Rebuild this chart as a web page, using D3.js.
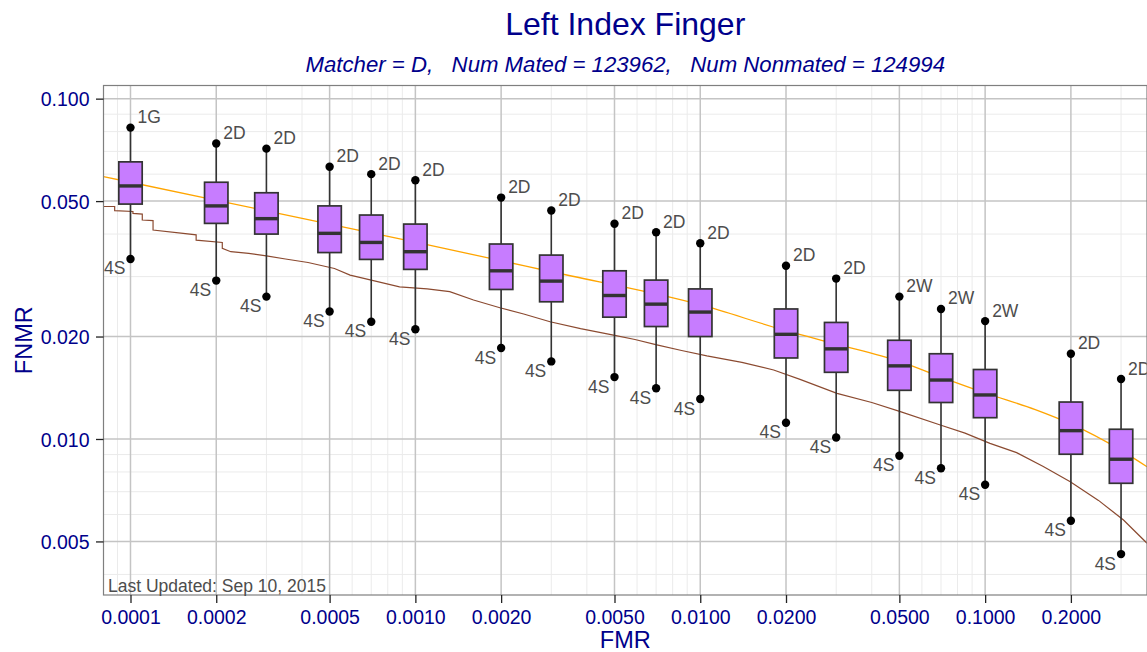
<!DOCTYPE html>
<html>
<head>
<meta charset="utf-8">
<script src="https://cdn.jsdelivr.net/npm/d3@7/dist/d3.min.js"></script>
<style>
  body { margin: 0; background: #fff; }
  text { font-family: "Liberation Sans", Arial, Helvetica, sans-serif; }
</style>
</head>
<body>
<div id="chart"></div>
<script>
// Left Index Finger - FNMR vs FMR boxplots (log-log)

// ---- data ----
var fmrLevels = [0.0001, 0.0002, 0.0003, 0.0005, 0.0007, 0.001, 0.002, 0.003, 0.005,
                 0.007, 0.01, 0.02, 0.03, 0.05, 0.07, 0.1, 0.2, 0.3];
var fnmrMax    = [0.0822, 0.0738, 0.0713, 0.0631, 0.0600, 0.0576, 0.0512, 0.0469, 0.0429,
                  0.0405, 0.0376, 0.0323, 0.0296, 0.0262, 0.0241, 0.0222, 0.0178, 0.0150];
var fnmrQ3     = [0.0652, 0.0568, 0.0529, 0.0484, 0.0455, 0.0428, 0.0374, 0.0347, 0.0312,
                  0.0293, 0.0276, 0.0241, 0.0220, 0.0195, 0.0178, 0.0160, 0.01284, 0.01068];
var fnmrMedian = [0.0554, 0.0484, 0.0444, 0.0402, 0.0378, 0.0355, 0.0312, 0.0291, 0.0264,
                  0.0249, 0.0236, 0.0203, 0.0184, 0.0164, 0.0149, 0.01347, 0.01058, 0.00872];
var fnmrQ1     = [0.0490, 0.0430, 0.0400, 0.0353, 0.0337, 0.0315, 0.0275, 0.0253, 0.0228,
                  0.0214, 0.0200, 0.0173, 0.0157, 0.0139, 0.0128, 0.01155, 0.00902, 0.00741];
var fnmrMin    = [0.0338, 0.0292, 0.0262, 0.0237, 0.0221, 0.0210, 0.0185, 0.0169, 0.0152,
                  0.0141, 0.0131, 0.01116, 0.0101, 0.00893, 0.0082, 0.00734, 0.00575, 0.00459];
var topLabels = ["1G", "2D", "2D", "2D", "2D", "2D", "2D", "2D", "2D",
                 "2D", "2D", "2D", "2D", "2W", "2W", "2W", "2D", "2D"];
var bottomLabels = ["4S", "4S", "4S", "4S", "4S", "4S", "4S", "4S", "4S",
                    "4S", "4S", "4S", "4S", "4S", "4S", "4S", "4S", "4S"];

// orange reference curve
var orangeFmr  = [8.04e-5, 1e-4, 3e-4, 1e-3, 3e-3, 1e-2, 2e-2, 3e-2, 5e-2, 7e-2, 0.1, 0.15, 0.2, 0.3, 0.37];
var orangeFnmr = [0.0590, 0.0568, 0.0468, 0.0379, 0.0310, 0.0248, 0.0208, 0.0190, 0.0169, 0.0152,
                  0.01365, 0.0122, 0.01107, 0.00926, 0.00829];

// brown empirical curve
var brownFmr  = [8.04e-5, 8.8e-5, 8.8e-5, 1.02e-4, 1.02e-4, 1.1e-4, 1.1e-4, 1.2e-4, 1.2e-4, 1.53e-4,
                 1.7e-4, 1.7e-4, 2.1e-4, 2.1e-4, 2.25e-4, 2.6e-4, 3.0e-4, 3.5e-4, 4.2e-4, 5.2e-4,
                 5.9e-4, 7.0e-4, 8.8e-4, 1.1e-3, 1.32e-3, 1.6e-3, 1.98e-3, 2.4e-3, 2.97e-3, 3.8e-3,
                 4.96e-3, 5.9e-3, 7.04e-3, 8.6e-3, 1.055e-2, 1.4e-2, 1.81e-2, 2.24e-2, 3.02e-2,
                 4.0e-2, 5.04e-2, 6.96e-2, 8.5e-2, 0.104, 0.129, 0.16, 0.199, 0.25, 0.306, 0.37];
var brownFnmr = [0.0482, 0.0482, 0.0469, 0.0466, 0.0460, 0.0458, 0.0440, 0.0438, 0.0411, 0.0402,
                 0.0398, 0.0384, 0.0378, 0.0363, 0.0355, 0.0351, 0.0345, 0.0338, 0.0330, 0.0317,
                 0.0303, 0.0293, 0.0280, 0.0276, 0.0271, 0.0256, 0.0243, 0.0233, 0.0221, 0.0211,
                 0.0202, 0.0196, 0.0189, 0.0182, 0.01754, 0.0168, 0.01595, 0.01497, 0.01362,
                 0.0128, 0.01203, 0.01099, 0.0104, 0.00971, 0.00912, 0.0083, 0.00749, 0.0066, 0.00578, 0.00494];

var xTicks = [0.0001, 0.0002, 0.0005, 0.001, 0.002, 0.005, 0.01, 0.02, 0.05, 0.1, 0.2];
var yTicks = [0.005, 0.01, 0.02, 0.05, 0.1];
var fmrLimits = [8.04e-5, 0.37];
var fnmrLimits = [0.00348, 0.1093];

// ---- layout ----
var svgWidth = 1147;
var svgHeight = 652;

var margin = {
  top: 85.5,
  right: 0,
  bottom: 57,
  left: 103.5
};

var width = svgWidth - margin.left - margin.right;
var height = svgHeight - margin.top - margin.bottom;

var blue = "#00008B";
var labelGray = "#4D4D4D";
var boxHalf = 11.7;

var svg = d3.select("#chart")
  .append("svg")
  .attr("width", svgWidth)
  .attr("height", svgHeight);

var chartGroup = svg.append("g")
  .attr("transform", `translate(${margin.left}, ${margin.top})`);

var xScale = d3.scaleLog().domain(fmrLimits).range([0, width]);
var yScale = d3.scaleLog().domain(fnmrLimits).range([height, 0]);

svg.append("defs").append("clipPath")
  .attr("id", "panelClip")
  .append("rect")
  .attr("width", width)
  .attr("height", height);

// minor breaks: every k * 10^n inside the range that is not a major break
function minorBreaks(domain, majors) {
  var out = [];
  for (var e = -6; e <= 1; e++) {
    for (var k = 1; k <= 9; k++) {
      var v = k * Math.pow(10, e);
      if (v < domain[0] || v > domain[1]) continue;
      var isMajor = majors.some(function(m) { return Math.abs(m - v) / m < 1e-6; });
      if (!isMajor) out.push(v);
    }
  }
  return out;
}

chartGroup.append("rect")
  .attr("width", width)
  .attr("height", height)
  .attr("fill", "#fff");

var grid = chartGroup.append("g");

grid.selectAll(".xminor")
  .data(minorBreaks(fmrLimits, xTicks))
  .enter().append("line")
  .attr("x1", function(d) { return xScale(d); })
  .attr("x2", function(d) { return xScale(d); })
  .attr("y1", 0).attr("y2", height)
  .attr("stroke", "#EBEBEB").attr("stroke-width", 1);

grid.selectAll(".yminor")
  .data(minorBreaks(fnmrLimits, yTicks))
  .enter().append("line")
  .attr("y1", function(d) { return yScale(d); })
  .attr("y2", function(d) { return yScale(d); })
  .attr("x1", 0).attr("x2", width)
  .attr("stroke", "#EBEBEB").attr("stroke-width", 1);

grid.selectAll(".xmajor")
  .data(xTicks)
  .enter().append("line")
  .attr("x1", function(d) { return xScale(d); })
  .attr("x2", function(d) { return xScale(d); })
  .attr("y1", 0).attr("y2", height)
  .attr("stroke", "#C4C4C4").attr("stroke-width", 1.5);

grid.selectAll(".ymajor")
  .data(yTicks)
  .enter().append("line")
  .attr("y1", function(d) { return yScale(d); })
  .attr("y2", function(d) { return yScale(d); })
  .attr("x1", 0).attr("x2", width)
  .attr("stroke", "#C4C4C4").attr("stroke-width", 1.5);

// curves
var lines = chartGroup.append("g").attr("clip-path", "url(#panelClip)");

var brownData = brownFmr.map(function(f, i) { return [f, brownFnmr[i]]; });
var orangeData = orangeFmr.map(function(f, i) { return [f, orangeFnmr[i]]; });

lines.append("path")
  .datum(brownData)
  .attr("fill", "none")
  .attr("stroke", "#8B4A30")
  .attr("stroke-width", 1.2)
  .attr("d", d3.line()
    .x(function(d) { return xScale(d[0]); })
    .y(function(d) { return yScale(d[1]); }));

lines.append("path")
  .datum(orangeData)
  .attr("fill", "none")
  .attr("stroke", "#FFA500")
  .attr("stroke-width", 1.3)
  .attr("d", d3.line()
    .curve(d3.curveMonotoneX)
    .x(function(d) { return xScale(d[0]); })
    .y(function(d) { return yScale(d[1]); }));

// boxes
var boxData = fmrLevels.map(function(f, i) {
  return {fmr: f, max: fnmrMax[i], q3: fnmrQ3[i], med: fnmrMedian[i], q1: fnmrQ1[i],
          min: fnmrMin[i], top: topLabels[i], bottom: bottomLabels[i]};
});

var boxes = chartGroup.append("g")
  .selectAll("g")
  .data(boxData)
  .enter().append("g");

boxes.append("line")
  .attr("x1", function(d) { return xScale(d.fmr); })
  .attr("x2", function(d) { return xScale(d.fmr); })
  .attr("y1", function(d) { return yScale(d.max); })
  .attr("y2", function(d) { return yScale(d.q3); })
  .attr("stroke", "#333").attr("stroke-width", 1.6);

boxes.append("line")
  .attr("x1", function(d) { return xScale(d.fmr); })
  .attr("x2", function(d) { return xScale(d.fmr); })
  .attr("y1", function(d) { return yScale(d.q1); })
  .attr("y2", function(d) { return yScale(d.min); })
  .attr("stroke", "#333").attr("stroke-width", 1.6);

boxes.append("rect")
  .attr("x", function(d) { return xScale(d.fmr) - boxHalf; })
  .attr("width", boxHalf * 2)
  .attr("y", function(d) { return yScale(d.q3); })
  .attr("height", function(d) { return yScale(d.q1) - yScale(d.q3); })
  .attr("fill", "#C77CFF")
  .attr("stroke", "#333")
  .attr("stroke-width", 1.7);

boxes.append("line")
  .attr("x1", function(d) { return xScale(d.fmr) - boxHalf; })
  .attr("x2", function(d) { return xScale(d.fmr) + boxHalf; })
  .attr("y1", function(d) { return yScale(d.med); })
  .attr("y2", function(d) { return yScale(d.med); })
  .attr("stroke", "#333").attr("stroke-width", 3.4);

boxes.append("circle")
  .attr("cx", function(d) { return xScale(d.fmr); })
  .attr("cy", function(d) { return yScale(d.max); })
  .attr("r", 4.2).attr("fill", "#000");

boxes.append("circle")
  .attr("cx", function(d) { return xScale(d.fmr); })
  .attr("cy", function(d) { return yScale(d.min); })
  .attr("r", 4.2).attr("fill", "#000");

boxes.append("text")
  .attr("x", function(d) { return xScale(d.fmr) + 7; })
  .attr("y", function(d) { return yScale(d.max) - 4.5; })
  .attr("font-size", "17.5px")
  .attr("fill", labelGray)
  .text(function(d) { return d.top; });

boxes.append("text")
  .attr("x", function(d) { return xScale(d.fmr) - 5; })
  .attr("y", function(d) { return yScale(d.min) + 15.5; })
  .attr("text-anchor", "end")
  .attr("font-size", "17.5px")
  .attr("fill", labelGray)
  .text(function(d) { return d.bottom; });

// panel border
chartGroup.append("rect")
  .attr("width", width)
  .attr("height", height)
  .attr("fill", "none")
  .attr("stroke", "#7F7F7F")
  .attr("stroke-width", 1.2);

chartGroup.append("text")
  .attr("x", 4.5)
  .attr("y", height - 3.5)
  .attr("font-size", "17.5px")
  .attr("fill", labelGray)
  .text("Last Updated: Sep 10, 2015");

// axes
var leftAxis = d3.axisLeft(yScale)
  .tickValues(yTicks)
  .tickFormat(d3.format(".3f"))
  .tickSize(7.5)
  .tickPadding(6.5);

var bottomAxis = d3.axisBottom(xScale)
  .tickValues(xTicks)
  .tickFormat(d3.format(".4f"))
  .tickSize(8)
  .tickPadding(7.5);

var yAxisGroup = chartGroup.append("g").call(leftAxis);
var xAxisGroup = chartGroup.append("g")
  .attr("transform", `translate(0, ${height})`)
  .call(bottomAxis);

[yAxisGroup, xAxisGroup].forEach(function(g) {
  g.attr("font-family", null).attr("font-size", null);
  g.select(".domain").remove();
  g.selectAll(".tick line").attr("stroke", "#222").attr("stroke-width", 1.3);
  g.selectAll(".tick text")
    .attr("fill", blue)
    .attr("font-size", "19.5px");
});
yAxisGroup.selectAll(".tick text").attr("dy", "0.36em");

// titles
svg.append("text")
  .attr("x", margin.left + width / 2)
  .attr("y", 35)
  .attr("text-anchor", "middle")
  .attr("font-size", "32px")
  .attr("fill", blue)
  .text("Left Index Finger");

svg.append("text")
  .attr("x", margin.left + width / 2)
  .attr("y", 72)
  .attr("text-anchor", "middle")
  .attr("font-size", "22.2px")
  .attr("font-style", "italic")
  .attr("fill", blue)
  .style("white-space", "pre")
  .text("Matcher = D,   Num Mated = 123962,   Num Nonmated = 124994");

svg.append("text")
  .attr("x", margin.left + width / 2)
  .attr("y", 647.5)
  .attr("text-anchor", "middle")
  .attr("font-size", "23.5px")
  .attr("fill", blue)
  .text("FMR");

svg.append("text")
  .attr("transform", "rotate(-90)")
  .attr("x", -(margin.top + height / 2))
  .attr("y", 32)
  .attr("text-anchor", "middle")
  .attr("font-size", "23.5px")
  .attr("fill", blue)
  .text("FNMR");
</script>
</body>
</html>
